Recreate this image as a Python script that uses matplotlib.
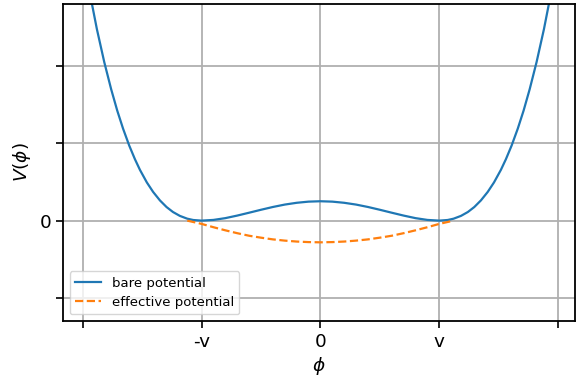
import numpy as np
import matplotlib
matplotlib.use("Agg")
from matplotlib import pyplot as plt

# bare potential (v = 1)
phi_bare = [-2.0, -1.935, -1.88, -1.818, -1.76, -1.709, -1.66, -1.608, -1.56, -1.518, -1.46,
            -1.407, -1.35, -1.294, -1.24, -1.182, -1.12, -1.07, -1.0, -0.9, -0.8, -0.7, -0.6,
            -0.5, -0.4, -0.3, -0.2, -0.1, 0.0,
            0.1, 0.2, 0.3, 0.4, 0.5, 0.6, 0.7, 0.8, 0.9, 1.0, 1.07, 1.12, 1.182, 1.24,
            1.294, 1.35, 1.407, 1.46, 1.518, 1.56, 1.608, 1.66, 1.709, 1.76, 1.818, 1.88, 1.935, 2.0]
v_bare = [3.47, 2.9, 2.47, 2.045, 1.695, 1.42, 1.187, 0.968, 0.792, 0.655, 0.493,
          0.37, 0.261, 0.175, 0.111, 0.061, 0.025, 0.008, 0.0, 0.009, 0.032, 0.065, 0.102,
          0.14, 0.176, 0.207, 0.23, 0.245, 0.25,
          0.245, 0.23, 0.207, 0.176, 0.14, 0.102, 0.065, 0.032, 0.009, 0.0, 0.008, 0.025, 0.061, 0.111,
          0.175, 0.261, 0.37, 0.493, 0.655, 0.792, 0.968, 1.187, 1.42, 1.695, 2.045, 2.47, 2.9, 3.47]

# effective potential
phi_eff = [-1.12, -1.0, -0.9, -0.8, -0.7, -0.6, -0.5, -0.4, -0.3, -0.2, -0.1, 0.0,
           0.1, 0.2, 0.3, 0.4, 0.5, 0.6, 0.7, 0.8, 0.9, 1.0, 1.12]
v_eff = [0.0, -0.042, -0.085, -0.125, -0.162, -0.195, -0.22, -0.242, -0.258, -0.27, -0.277, -0.28,
         -0.277, -0.27, -0.258, -0.242, -0.22, -0.195, -0.162, -0.125, -0.085, -0.042, 0.0]

xticks = [-2, -1, 0, 1, 2]
xlabels = ['', '-v', '0', 'v', '']
yticks = [-1, 0, 1, 2]
ylabels = ['', '0', '', '']

fig = plt.figure(figsize=(5.76, 3.81), dpi=100)
ax = fig.add_axes([0.1094, 0.1575, 0.8886, 0.832])

ax.plot(phi_bare, v_bare, color='#1f77b4', lw=1.6, label='bare potential')
ax.plot(phi_eff, v_eff, color='#ff7f0e', lw=1.6, ls='--', label='effective potential')

ax.set_xlim(-2.165, 2.14)
ax.set_ylim(-1.295, 2.795)
ax.set_xticks(xticks)
ax.set_xticklabels(xlabels)
ax.set_yticks(yticks)
ax.set_yticklabels(ylabels)
ax.tick_params(labelsize=13.3, width=1.2, length=5)
ax.grid(True, color='#b0b0b0', lw=1.3)
for s in ax.spines.values():
    s.set_linewidth(1.3)

ax.set_xlabel(r'$\phi$', fontsize=13.3, labelpad=3)
ax.set_ylabel(r'$V(\phi)$', fontsize=13.3, labelpad=5)
ax.legend(loc='lower left', fontsize=9.5)

fig.savefig('out.png', dpi=100)
